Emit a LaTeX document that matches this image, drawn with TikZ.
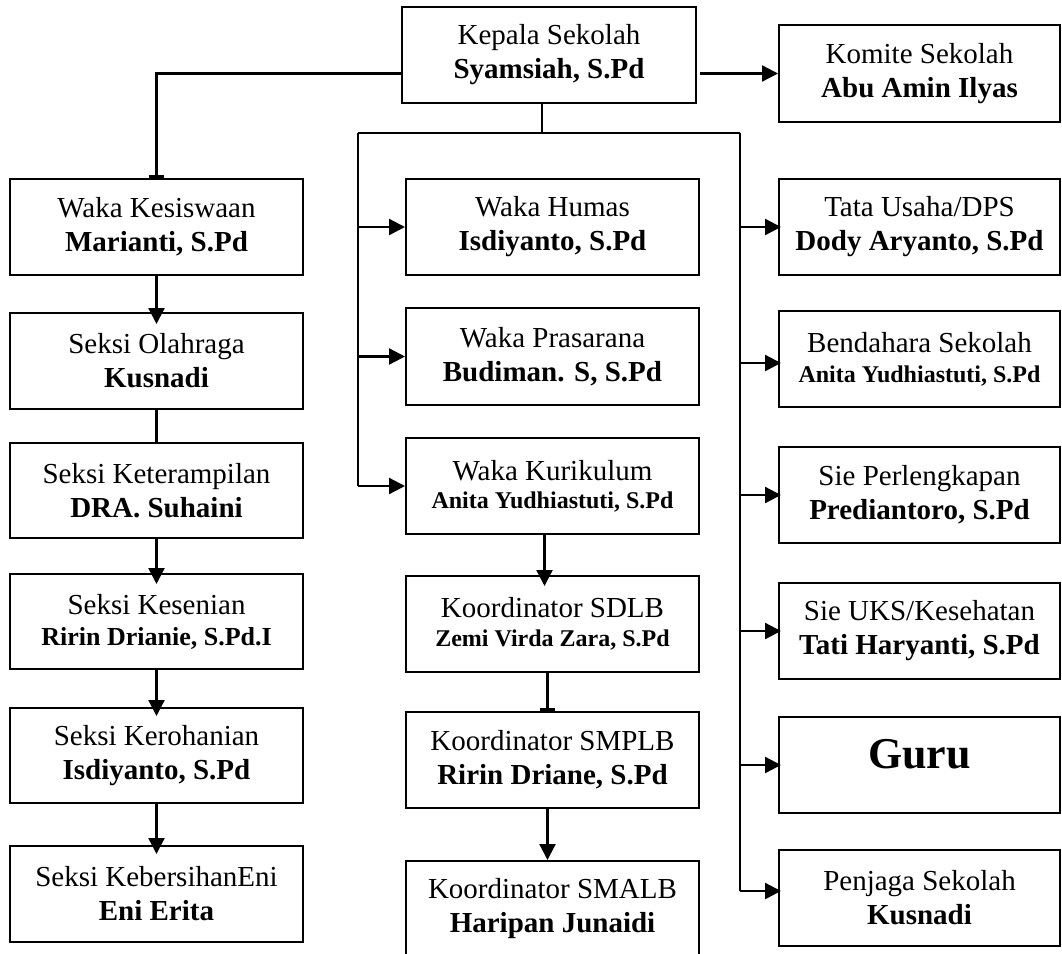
\documentclass[tikz,border=0pt]{standalone}
\usepackage{fontspec}
\setmainfont{Liberation Serif}
\usetikzlibrary{arrows.meta,calc}
\newcommand{\smb}[1]{{\fontsize{24}{28}\selectfont\bfseries #1}}
\begin{document}
\begin{tikzpicture}[x=1pt,y=-1pt,
  box/.style={draw, line width=2pt, fill=white, inner sep=0pt, align=center,
    font=\fontsize{29}{34}\selectfont},
  lbox/.style={box, minimum width=293pt, minimum height=96pt},
  rbox/.style={box, minimum width=281pt, minimum height=96pt},
  conn/.style={line width=2.3pt},
  arr/.style={conn, -{Triangle[length=16pt,width=16pt]}},
  hid/.style={conn, -{Bar[width=15pt,line width=3pt]}}]
\useasboundingbox (0,0) rectangle (1062,953);
\clip (0,0) rectangle (1062,953);
\fill[white] (0,0) rectangle (1062,953);

% top
\node[box, minimum width=294pt, minimum height=96pt] (kepala) at (549,55)
  {Kepala Sekolah\\\textbf{Syamsiah, S.Pd}};
\node[rbox, minimum height=97pt] (komite) at (919.5,73.5)
  {Komite Sekolah\\\textbf{Abu Amin Ilyas}};

% left column
\node[lbox] (kes) at (156.5,227) {Waka Kesiswaan\\\textbf{Marianti, S.Pd}};
\node[lbox] (olah) at (156.5,361) {Seksi Olahraga\\\textbf{Kusnadi}};
\node[lbox, minimum height=95pt] (ket) at (156.5,490.5) {Seksi Keterampilan\\\textbf{DRA. Suhaini}};
\node[lbox, minimum height=95pt] (sen) at (156.5,621.5)
  {Seksi Kesenian\\[-3pt]{\fontsize{26}{30}\selectfont\bfseries Ririn Drianie, S.Pd.I}};
\node[lbox, minimum height=95pt] (roh) at (156.5,755.5) {Seksi Kerohanian\\\textbf{Isdiyanto, S.Pd}};
\node[lbox] (ber) at (156.5,894) {Seksi KebersihanEni\\\textbf{Eni Erita}};

% centre column
\node[lbox] (humas) at (552.5,227) {Waka Humas\\\textbf{Isdiyanto, S.Pd}};
\node[lbox, minimum height=97pt] (pras) at (552.5,356.5) {Waka Prasarana\\\textbf{Budiman. S, S.Pd}};
\node[lbox] (kur) at (552.5,486) {Waka Kurikulum\\[-6pt]\smb{Anita Yudhiastuti, S.Pd}};
\node[lbox] (sdlb) at (552.5,624) {Koordinator SDLB\\[-5pt]\smb{Zemi Virda Zara, S.Pd}};
\node[lbox] (smp) at (552.5,760) {Koordinator SMPLB\\\textbf{Ririn Driane, S.Pd}};
\node[lbox] (sma) at (552.5,909) {Koordinator SMALB\\\textbf{Haripan Junaidi}};

% right column
\node[rbox] (tata) at (919.5,227) {Tata Usaha/DPS\\\textbf{Dody Aryanto, S.Pd}};
\node[rbox] (bend) at (919.5,359) {Bendahara Sekolah\\[-4pt]\smb{Anita Yudhiastuti, S.Pd}};
\node[rbox] (perl) at (919.5,495) {Sie Perlengkapan\\\textbf{Prediantoro, S.Pd}};
\node[rbox] (uks) at (919.5,631) {Sie UKS/Kesehatan\\\textbf{Tati Haryanti, S.Pd}};
\node[rbox, font=\fontsize{44}{50}\selectfont\bfseries, text depth=22pt] (guru) at (919.5,765) {Guru};
\node[rbox] (penj) at (919.5,898) {Penjaga Sekolah\\\textbf{Kusnadi}};

% bus coordinates
\coordinate (bt) at (542,133);
\coordinate (bl) at (358,133);
\coordinate (br) at (740,133);

% connectors from the head
\draw[hid] (kepala.west |- komite.west) -| (kes.north);
\draw[arr, shorten <=3pt] (kepala.east |- komite.west) -- (komite.west);
\draw[conn] ([xshift=-7pt]kepala.south) -- (bt);
\draw[conn] (bl) -- (br);
\draw[conn] (bl) -- (bl |- kur.west);
\draw[conn] (br) -- ($(br |- penj.west)+(0,-7)$);

% left bus arrows
\draw[arr] (bl |- humas.west) -- (humas.west);
\draw[arr] (bl |- pras.west) -- (pras.west);
\draw[arr] (bl |- kur.west) -- (kur.west);

% right bus arrows
\draw[arr, shorten >=-3pt] (br |- tata.west) -- (tata.west);
\draw[arr, shorten >=-3pt] ($(br |- bend.west)+(0,4)$) -- ($(bend.west)+(0,4)$);
\draw[arr, shorten >=-3pt] (br |- perl.west) -- (perl.west);
\draw[arr, shorten >=-3pt] (br |- uks.west) -- (uks.west);
\draw[arr, shorten >=-3pt] (br |- guru.west) -- (guru.west);
\draw[arr, shorten >=-3pt] ($(br |- penj.west)+(0,-7)$) -- ($(penj.west)+(0,-7)$);

% left column chain
\draw[arr, shorten >=-12pt] (kes.south) -- (olah.north);
\draw[conn] (olah.south) -- (ket.north);
\draw[arr, shorten >=-11pt] (ket.south) -- (sen.north);
\draw[arr, shorten >=-9pt] (sen.south) -- (roh.north);
\draw[arr, shorten >=-9pt] (roh.south) -- (ber.north);

% centre column chain
\draw[arr, shorten >=-11pt] ([xshift=-8pt]kur.south) -- ([xshift=-8pt]sdlb.north);
\draw[hid] ([xshift=-5pt]sdlb.south) -- ([xshift=-5pt]smp.north);
\draw[arr] ([xshift=-5pt]smp.south) -- ([xshift=-5pt]sma.north);
\end{tikzpicture}
\end{document}
